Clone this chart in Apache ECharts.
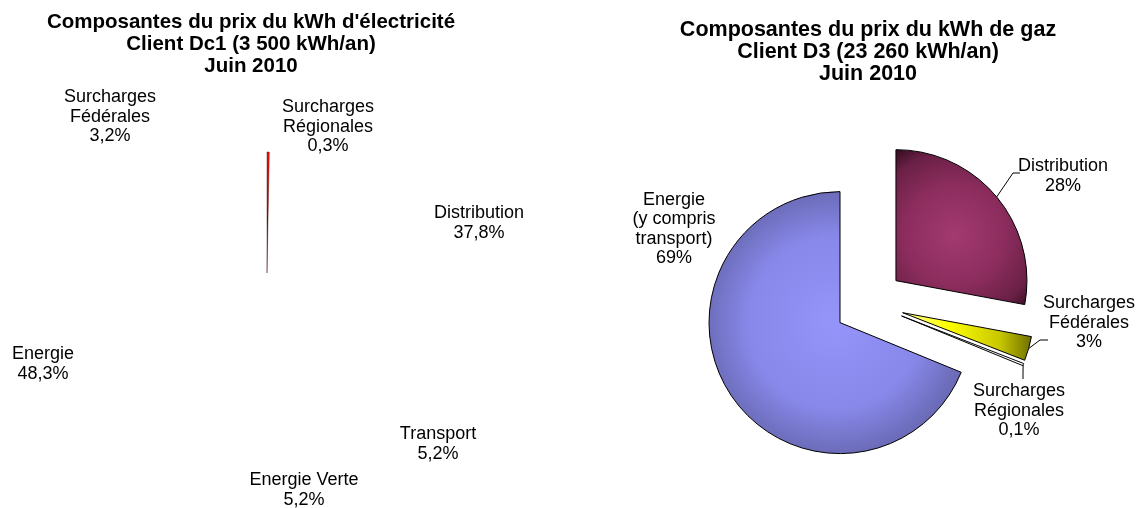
<!DOCTYPE html>
<html><head><meta charset="utf-8">
<script src="https://cdn.jsdelivr.net/npm/echarts@6/dist/echarts.min.js"></script>
<style>html,body{margin:0;padding:0;background:#fff}#c{width:1136px;height:508px}</style>
</head><body><div id="c"></div>
<script>
// ---- data ----
const elecTitle = "Composantes du prix du kWh d'électricité\nClient Dc1 (3 500 kWh/an)\nJuin 2010";
const gazTitle = "Composantes du prix du kWh de gaz\nClient D3 (23 260 kWh/an)\nJuin 2010";
const elecCategories = ['Surcharges\nRégionales', 'Distribution', 'Transport', 'Energie Verte', 'Energie', 'Surcharges\nFédérales'];
const elecValues = [0.3, 37.8, 5.2, 5.2, 48.3, 3.2];
const gazCategories = ['Distribution', 'Surcharges\nFédérales', 'Surcharges\nRégionales', 'Energie\n(y compris\ntransport)'];
const gazValues = [28, 3, 0.1, 69];

// ---- layout (label anchors, leader elbows) ----
const elecLabelPos = [[328, 127], [479, 223], [438, 444], [304, 490], [43, 364], [110, 117]];
const gazLabelPos = [[1063, 176], [1089, 323], [1019, 411], [674, 229]];
const gazLeader = [[[1013, 173], [1020, 173]], [[1040, 340], [1048, 340]], [[1023, 372], [1023, 379]], null];
const GAZ_CENTER = [869, 303];
const GAZ_RADIUS = 131;
const EXPLODE = 35;

// ---- styles ----
const FONT = 'Liberation Sans, Arial, sans-serif';
const labelFont = { fontFamily: FONT, fontSize: 18, lineHeight: 19.5, color: '#000' };
const titleStyle = { fontFamily: FONT, fontWeight: 'bold', lineHeight: 22, color: '#000' };
const sliverFill = { type: 'linear', x: 0, y: 0, x2: 0, y2: 1, colorStops: [
  { offset: 0, color: '#ff1010' }, { offset: 0.45, color: '#d00000' }, { offset: 1, color: '#2a2a2a' }] };
const gazFill = [
  { type: 'radial', x: 0.45, y: 0.55, r: 0.75, colorStops: [
    { offset: 0, color: '#a33a70' }, { offset: 0.5, color: '#8c2d5e' }, { offset: 0.85, color: '#6a2046' }, { offset: 1, color: '#3e1026' }] },
  { type: 'linear', x: 0, y: 0, x2: 1, y2: 0, colorStops: [
    { offset: 0, color: '#ffffa0' }, { offset: 0.35, color: '#ffff00' }, { offset: 0.75, color: '#c8c800' }, { offset: 1, color: '#6e6e00' }] },
  '#ffffff',
  { type: 'radial', x: 0.5, y: 0.5, r: 0.62, colorStops: [
    { offset: 0, color: '#9494fa' }, { offset: 0.55, color: '#8888ea' }, { offset: 0.85, color: '#6a6ab6' }, { offset: 1, color: '#424276' }] }
];

function elecFmt(v) { return v.toFixed(1).replace('.', ',') + '%'; }
function gazFmt(v) { return (Number.isInteger(v) ? String(v) : v.toFixed(1).replace('.', ',')) + '%'; }

// one pie per exploded gas slice (all share the same angles; only slice k is drawn)
const gazTotal = gazValues.reduce((a, b) => a + b, 0);
let cum = 0;
const gazSeries = gazValues.map((v, k) => {
  const mid = (cum + v / 2) / gazTotal * 2 * Math.PI;
  cum += v;
  return {
    type: 'pie', radius: GAZ_RADIUS, startAngle: 90, clockwise: true, minAngle: 1,
    center: [GAZ_CENTER[0] + EXPLODE * Math.sin(mid), GAZ_CENTER[1] - EXPLODE * Math.cos(mid)],
    avoidLabelOverlap: false, silent: true,
    data: gazCategories.map((n, i) => ({
      name: n, value: gazValues[i],
      itemStyle: i === k ? { color: gazFill[i], borderColor: '#000', borderWidth: 1 } : { color: 'rgba(0,0,0,0)', borderWidth: 0 },
      label: { show: i === k },
      labelLine: { show: i === k && gazLeader[i] !== null }
    })),
    label: Object.assign({ position: 'outside', align: 'center',
      formatter: p => p.name + '\n' + gazFmt(p.value) }, labelFont),
    labelLine: { length: 10, length2: 10, lineStyle: { color: '#000', width: 1 } },
    labelLayout: p => {
      const pos = gazLabelPos[p.dataIndex];
      const res = { x: pos[0], y: pos[1], align: 'center', verticalAlign: 'middle' };
      const lead = gazLeader[p.dataIndex];
      if (lead && p.labelLinePoints) res.labelLinePoints = [p.labelLinePoints[0]].concat(lead);
      return res;
    }
  };
});

const chart = echarts.init(document.getElementById('c'));
chart.setOption({
  animation: false,
  backgroundColor: '#fff',
  title: [
    { text: elecTitle, left: 251, top: 11, padding: 0, textAlign: 'center', textStyle: Object.assign({ fontSize: 20.5 }, titleStyle) },
    { text: gazTitle, left: 868, top: 19, padding: 0, textAlign: 'center', textStyle: Object.assign({ fontSize: 21.5 }, titleStyle) }
  ],
  series: [
    {
      type: 'pie', center: [267, 273], radius: 121, startAngle: 90, clockwise: true,
      avoidLabelOverlap: false, silent: true,
      data: elecCategories.map((n, i) => ({
        name: n, value: elecValues[i],
        itemStyle: { color: i === 0 ? sliverFill : 'rgba(255,255,255,0)', borderWidth: i === 0 ? 0.4 : 0, borderColor: '#400000' }
      })),
      label: Object.assign({ show: true, position: 'outside', align: 'center',
        formatter: p => p.name + '\n' + elecFmt(p.value) }, labelFont),
      labelLine: { show: false },
      labelLayout: p => ({ x: elecLabelPos[p.dataIndex][0], y: elecLabelPos[p.dataIndex][1], align: 'center', verticalAlign: 'middle' })
    }
  ].concat(gazSeries)
});
</script>
</body></html>
